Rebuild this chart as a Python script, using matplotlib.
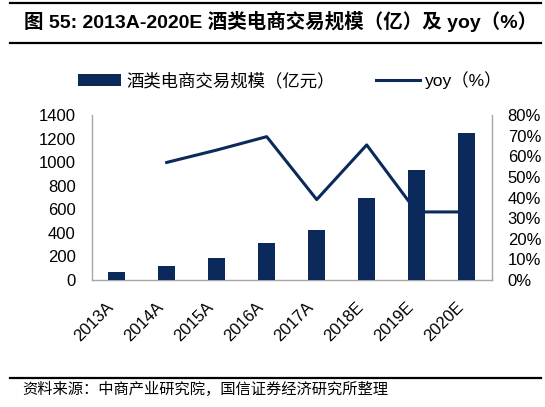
import matplotlib
matplotlib.use("Agg")
import matplotlib.pyplot as plt
from matplotlib.lines import Line2D
from matplotlib.ticker import FuncFormatter

plt.rcParams['font.family'] = ['Liberation Sans', 'Noto Sans CJK SC']

# 数据
years = ['2013A', '2014A', '2015A', '2016A', '2017A', '2018E', '2019E', '2020E']
scale = [72, 115, 185, 310, 425, 700, 935, 1245]       # 酒类电商交易规模（亿元）
yoy = [None, 57, 63, 69.5, 39, 65.5, 33, 33]           # yoy（%）

navy = '#0b2a5b'
grey = '#a6a6a6'

fig = plt.figure(figsize=(5.45, 4.07), dpi=100)
ax = fig.add_axes([91.7 / 545, 1 - 280 / 407, 400 / 545, 165 / 407])
ax2 = ax.twinx()

x = list(range(len(years)))
bars = ax.bar(x, scale, width=0.333, color=navy, label='酒类电商交易规模（亿元）', zorder=3)

xl = [i for i, v in zip(x, yoy) if v is not None]
yl = [v for v in yoy if v is not None]
line, = ax2.plot(xl, yl, color=navy, lw=2.2, label='yoy（%）')

# 柱子画在折线上面
ax.set_zorder(ax2.get_zorder() + 1)
ax.patch.set_visible(False)

ax.set_xlim(-0.5, 7.5)
ax.set_ylim(0, 1400)
ax.set_yticks(range(0, 1401, 200))
ax2.set_ylim(0, 80)
ax2.set_yticks(range(0, 81, 10))
ax2.yaxis.set_major_formatter(FuncFormatter(lambda v, p: '%d%%' % v))

ax.set_xticks(x)
ax.set_xticklabels(years, rotation=45, ha='right', rotation_mode='default')

for a in (ax, ax2):
    for s in a.spines.values():
        s.set_color(grey)
        s.set_linewidth(1.0)
    a.spines['top'].set_visible(False)
ax.spines['right'].set_visible(False)
ax2.spines['left'].set_visible(False)
ax2.spines['bottom'].set_visible(False)

ax.tick_params(axis='y', length=0, pad=11.5, labelsize=12)
ax.tick_params(axis='x', length=0, pad=14, labelsize=12)
ax2.tick_params(axis='y', length=0, pad=11.5, labelsize=12)

# 图例
fig.legend([bars, line], ['酒类电商交易规模（亿元）', 'yoy（%）'],
           loc='center', bbox_to_anchor=(290 / 545, 1 - 80 / 407), ncol=2,
           frameon=False, fontsize=12.5, handlelength=2.5, handletextpad=0.3,
           columnspacing=2.4, borderpad=0, borderaxespad=0)

# 标题和横线
fig.add_artist(Line2D([10 / 545, 541 / 545], [1 - 2.7 / 407] * 2, color='black', lw=1.6))
fig.add_artist(Line2D([10 / 545, 541 / 545], [1 - 42.7 / 407] * 2, color='black', lw=1.6))
fig.text(24 / 545, 1 - 21.5 / 407, '图 55: 2013A-2020E 酒类电商交易规模（亿）及 yoy（%）',
         fontsize=14, fontweight='bold', va='center', ha='left')

fig.add_artist(Line2D([10 / 545, 541 / 545], [1 - 378 / 407] * 2, color='black', lw=1.6))
fig.text(22.6 / 545, 1 - 389.5 / 407, '资料来源：中商产业研究院，国信证券经济研究所整理',
         fontsize=11, va='center', ha='left')

fig.savefig('out.png', dpi=100)
